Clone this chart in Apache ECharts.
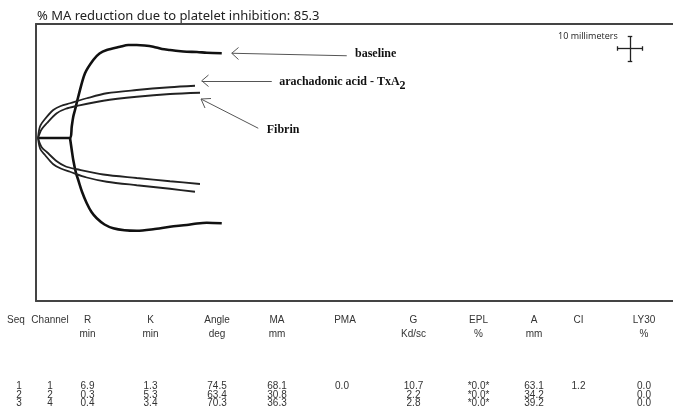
<!DOCTYPE html>
<html><head><meta charset="utf-8">
<script src="https://cdn.jsdelivr.net/npm/echarts@6/dist/echarts.min.js"></script>
<style>html,body{margin:0;padding:0;background:#fff}#c{width:673px;height:408px}</style>
</head><body><div id="c"></div>
<script>
// Tracing data in chart millimetres: [x (mm along paper), amplitude (mm)]
const baselineTop = [[0.4,0],[13.2,0],[13.9,4.6],[14.5,8.5],[15.2,11.2],[16.5,16.5],[19.2,25.9],[22.5,31.2],[25,33.8],[27.9,35.2],[33.2,36.5],[36.5,37.2],[39.9,37.2],[43,37.0],[46.5,36.5],[50,35.6],[53.2,35.2],[56.5,34.8],[59.9,34.5],[64,34.4],[67.9,34.1],[73.9,33.9]];
const baselineBottom = [[13.2,0],[13.9,-4.8],[14.5,-8.8],[15.6,-14],[16.5,-16.8],[18,-21.5],[19.9,-26.1],[21.8,-29.6],[23.9,-32.1],[27,-34.6],[30.5,-36.1],[35,-36.9],[39.9,-37.1],[46.5,-36.5],[53.2,-35.5],[59.9,-34.8],[64,-34.2],[67.9,-33.9],[73.9,-34.1]];
const arachTop = [[0.4,0],[1.2,4.6],[3.2,7.6],[6.5,11.2],[9.5,12.8],[13.2,13.9],[19.9,15.9],[27.9,17.9],[39.9,19.2],[53.2,20.3],[63.2,20.9]];
const arachBottom = [[0.4,0],[1.3,-4.4],[3.2,-6.8],[6.5,-10.5],[9.5,-12.2],[13.2,-13.5],[19.9,-15.8],[27.9,-17.5],[39.9,-18.9],[53.2,-20.3],[63.2,-21.5]];
const fibrinTop = [[0.4,0],[1.8,3.4],[3.9,5.9],[7.9,9.9],[11.5,11.7],[15.9,12.8],[26.5,14.9],[39.9,16.5],[53.2,17.6],[65.2,18.1]];
const fibrinBottom = [[0.4,0],[1.8,-3.6],[3.9,-5.6],[7.9,-9.3],[11.5,-11.4],[15.9,-12.5],[26.5,-14.6],[39.9,-16.0],[53.2,-17.3],[65.2,-18.4]];

const titleText = '% MA reduction due to platelet inhibition: 85.3';
const annotationLabels = ['baseline', 'arachadonic acid - TxA', 'Fibrin'];
const scaleLabel = '10 millimeters';

const tableHeader = ['Seq','Channel','R','K','Angle','MA','PMA','G','EPL','A','CI','LY30'];
const tableUnits  = ['','','min','min','deg','mm','','Kd/sc','%','mm','','%'];
const tableRow1 = ['1','1','6.9','1.3','74.5','68.1','0.0','10.7','*0.0*','63.1','1.2','0.0'];
const tableRow2 = ['2','2','0.3','5.3','63.4','30.8','','2.2','*0.0*','34.2','','0.0'];
const tableRow3 = ['3','4','0.4','3.4','70.3','36.3','','2.8','*0.0*','39.2','','0.0'];

// layout
const headCx = [16,50,87.5,150.5,217,277,345,413.5,478.5,534,578.5,644];
const dataCx = [19,50,87.5,150.5,217,277,342,413.5,478.5,534,578.5,644];
const tblFont = '10px "Liberation Sans", Arial, sans-serif';
const graphics = [];
function addRow(arr, cx, y){
  arr.forEach((t,i)=>{ if(!t) return; graphics.push({type:'text', x:cx[i], y:y, silent:true,
    style:{text:t, font:tblFont, fill:'#333', align:'center', verticalAlign:'middle', textAlign:'center', textVerticalAlign:'middle'}}); });
}
addRow(tableHeader, headCx, 320);
addRow(tableUnits, headCx, 334);
addRow(tableRow1, dataCx, 386.5);
addRow(tableRow2, dataCx, 395);
addRow(tableRow3, dataCx, 403.5);

const curveStyle = (w,c)=>({type:'line', showSymbol:false, symbol:'none', smooth:0.3, silent:true,
  lineStyle:{width:w, color:c}});
const seg = (a,b,w,c)=>[{coord:a, lineStyle:{width:w||1, color:c||'#555', type:'solid'}},{coord:b}];
const frameLine = {show:true, onZero:false, lineStyle:{color:'#444', width:2}};

const chart = echarts.init(document.getElementById('c'), null, {renderer:'canvas'});
chart.setOption({
  animation:false,
  title:{text:titleText, left:32, top:5, textStyle:{fontFamily:'"Noto Sans", sans-serif', fontSize:13, fontWeight:'normal', color:'#222'}},
  grid:{left:36, top:24, right:0, bottom:107, show:false},
  xAxis:[
    {type:'value', min:-0.4, max:254.4, position:'bottom', axisLine:frameLine, axisTick:{show:false}, axisLabel:{show:false}, splitLine:{show:false}},
    {type:'value', min:-0.4, max:254.4, position:'top', axisLine:frameLine, axisTick:{show:false}, axisLabel:{show:false}, splitLine:{show:false}}
  ],
  yAxis:{type:'value', min:-65.2, max:45.6, position:'left', axisLine:frameLine, axisTick:{show:false}, axisLabel:{show:false}, splitLine:{show:false}},
  series:[
    Object.assign(curveStyle(2.6,'#111'), {data:baselineTop}),
    Object.assign(curveStyle(2.6,'#111'), {data:baselineBottom}),
    Object.assign(curveStyle(1.8,'#222'), {data:arachTop}),
    Object.assign(curveStyle(1.8,'#222'), {data:arachBottom}),
    Object.assign(curveStyle(1.8,'#222'), {data:fibrinTop}),
    Object.assign(curveStyle(1.8,'#222'), {data:fibrinBottom}),
    {type:'line', data:[[-0.4,0]], symbol:'none', lineStyle:{opacity:0}, silent:true,
      markLine:{symbol:['none','none'], silent:true, label:{show:false}, animation:false,
        data:[
          seg([77.9,33.9],[123.9,32.9]), seg([77.9,33.9],[80.6,36.2]), seg([77.9,33.9],[80.6,31.4]),
          seg([65.9,22.9],[93.9,22.9]), seg([65.9,22.9],[68.6,25.2]), seg([65.9,22.9],[68.6,20.6]),
          seg([65.6,15.6],[88.5,3.9]), seg([65.6,15.6],[69.6,15.8]), seg([65.6,15.6],[67.2,12.0]),
          seg([232.2,35.8],[242.2,35.8],1.3,'#222'), seg([237.2,30.8],[237.2,40.8],1.3,'#222'),
          seg([232.2,34.9],[232.2,36.7],1.3,'#222'), seg([242.2,34.9],[242.2,36.7],1.3,'#222'),
          seg([236.3,30.8],[238.1,30.8],1.3,'#222'), seg([236.3,40.8],[238.1,40.8],1.3,'#222')
        ]},
      markPoint:{symbol:'circle', symbolSize:0, silent:true, animation:false,
        label:{show:true, position:'right', distance:0, color:'#111', fontFamily:'"Liberation Serif", serif', fontWeight:'bold', fontSize:12},
        data:[
          {coord:[127.2,33.6], label:{formatter:annotationLabels[0]}},
          {coord:[96.9,22.3], label:{formatter:'{a|'+annotationLabels[1]+'}{s|2}', rich:{a:{fontFamily:'"Liberation Serif", serif', fontWeight:'bold', fontSize:12, color:'#111'}, s:{fontFamily:'"Liberation Serif", serif', fontWeight:'bold', fontSize:12, color:'#111', padding:[8,0,0,0]}}}},
          {coord:[91.9,3.2], label:{formatter:annotationLabels[2]}},
          {coord:[208.4,40.6], label:{formatter:scaleLabel, fontFamily:'"Open Sans", sans-serif', fontWeight:'normal', fontSize:9, color:'#222'}}
        ]}
    }
  ],
  graphic:graphics
});
</script></body></html>
